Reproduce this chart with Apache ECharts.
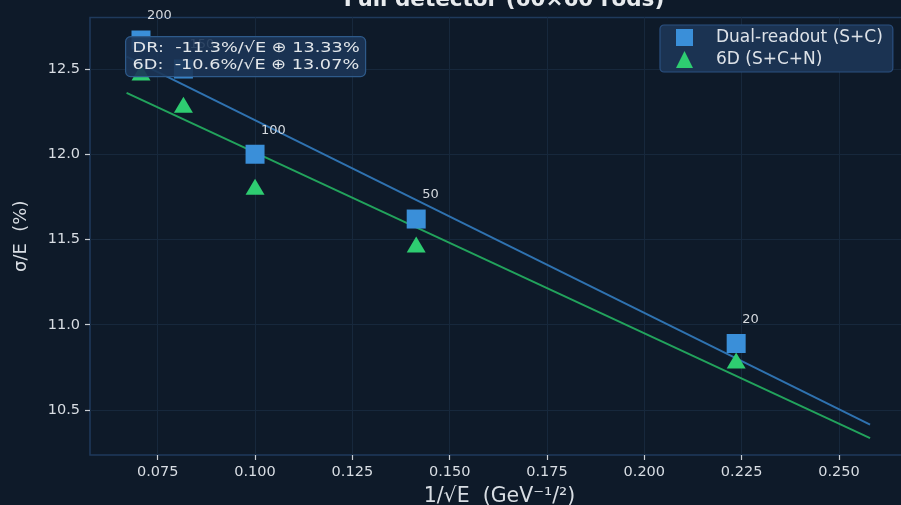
<!DOCTYPE html>
<html>
<head>
<meta charset="utf-8">
<script src="https://cdn.jsdelivr.net/npm/echarts@6/dist/echarts.min.js"></script>
<style>
  html, body { margin: 0; padding: 0; background: #0e1a29; }
  #chart { width: 901px; height: 505px; }
</style>
</head>
<body>
<div id="chart"></div>
<script>
// Beam energies (GeV) and the matching 1/sqrt(E) positions
const energies = [200, 150, 100, 50, 20];
const invSqrtE = [0.0707, 0.0816, 0.1000, 0.1414, 0.2236];

// Measured resolution sigma/E (%)
const drRes = [12.67, 12.50, 12.00, 11.62, 10.89];
const sixDRes = [12.48, 12.29, 11.81, 11.47, 10.79];

// Linear fits: [slope (%), constant (%)]
const drFit = [-11.3, 13.33];
const sixDFit = [-10.6, 13.07];
const fitRange = [0.067, 0.258];

// Axis ticks
const xTicks = [0.075, 0.100, 0.125, 0.150, 0.175, 0.200, 0.225, 0.250];
const yTicks = [10.5, 11.0, 11.5, 12.0, 12.5];

const FONT = 'DejaVu Sans';
const TXT = '#d8dde3';

function pts(xs, ys) { return xs.map((x, i) => [x, ys[i], energies[i]]); }
function fitLine(f) { return fitRange.map(x => [x, f[0] * x + f[1]]); }
function fitText(tag, f) {
  return tag + ':  ' + f[0].toFixed(1) + '%/√E ⊕ ' + f[1].toFixed(2) + '%';
}

const pointLabel = {
  show: true,
  formatter: p => String(p.value[2]),
  position: 'top',
  align: 'left',
  offset: [6, -3],
  color: '#d5d9de',
  fontFamily: FONT,
  fontSize: 13
};

const chart = echarts.init(document.getElementById('chart'));
chart.setOption({
  backgroundColor: '#0e1a29',
  animation: false,
  title: {
    text: 'Full detector (60×60 rods)',
    left: 499, textAlign: 'center',
    top: -16,
    textStyle: { color: '#e8ebee', fontFamily: FONT, fontSize: 21.5, fontWeight: 'bold' }
  },
  grid: {
    left: 90, top: 17.5, right: -8, bottom: 50,
    outerBoundsMode: 'none',
    show: true, borderColor: '#1f3a5c', borderWidth: 1.5, backgroundColor: '#0e1a29'
  },
  legend: {
    data: ['Dual-readout (S+C)', '6D (S+C+N)'],
    orient: 'vertical',
    left: 660, top: 25,
    padding: [4, 10, 4, 16],
    itemWidth: 17, itemHeight: 17, itemGap: 5,
    backgroundColor: '#1b3352',
    borderColor: '#2b5080', borderWidth: 1.2, borderRadius: 4,
    textStyle: { color: '#dde2e8', fontFamily: FONT, fontSize: 17, padding: [0, 0, 0, 18] }
  },
  xAxis: {
    type: 'value', min: 0.0576, max: 0.268,
    name: '1/√E  (GeV⁻¹/²)', nameLocation: 'middle', nameGap: 31,
    nameTextStyle: { color: TXT, fontFamily: FONT, fontSize: 20.5 },
    axisLine: { show: false },
    axisTick: { show: true, customValues: xTicks, length: 5, lineStyle: { color: '#c8cdd3', width: 1.2 } },
    axisLabel: { customValues: xTicks, color: TXT, fontFamily: FONT, fontSize: 14.5, margin: 10,
      formatter: v => v.toFixed(3) },
    splitLine: { show: true, lineStyle: { color: '#17283c', width: 1 } }
  },
  yAxis: {
    type: 'value', min: 10.236, max: 12.802,
    name: 'σ/E  (%)', nameLocation: 'middle', nameGap: 60,
    nameTextStyle: { color: TXT, fontFamily: FONT, fontSize: 18 },
    axisLine: { show: false },
    axisTick: { show: true, customValues: yTicks, length: 5, lineStyle: { color: '#c8cdd3', width: 1.2 } },
    axisLabel: { customValues: yTicks, color: TXT, fontFamily: FONT, fontSize: 14.5, margin: 10,
      formatter: v => v.toFixed(1) },
    splitLine: { show: true, lineStyle: { color: '#17283c', width: 1 } }
  },
  series: [
    {
      name: 'DR fit', type: 'line', data: fitLine(drFit), symbol: 'none', z: 2,
      lineStyle: { color: '#2f72b0', width: 2 }, silent: true
    },
    {
      name: '6D fit', type: 'line', data: fitLine(sixDFit), symbol: 'none', z: 2,
      lineStyle: { color: '#22a35c', width: 2 }, silent: true
    },
    {
      name: 'Dual-readout (S+C)', type: 'scatter', data: pts(invSqrtE, drRes),
      symbol: 'rect', symbolSize: 19, z: 3,
      itemStyle: { color: '#3a8fd9', opacity: 1 },
      label: pointLabel
    },
    {
      name: '6D (S+C+N)', type: 'scatter', data: pts(invSqrtE, sixDRes),
      symbol: 'triangle', symbolSize: [19, 16], z: 3,
      itemStyle: { color: '#2ecc71', opacity: 1 }
    }
  ],
  graphic: [
    {
      type: 'group', left: 125, top: 36, z: 100, zlevel: 1,
      children: [
        { type: 'rect', z: 100, zlevel: 1, shape: { x: 0, y: 0, width: 240, height: 40, r: 5 },
          style: { fill: 'rgba(28,53,86,0.9)', stroke: '#2e5a8a', lineWidth: 1.2 } },
        { type: 'text', z: 101, zlevel: 1, x: 7, y: 3, scaleX: 1.22,
          style: { text: fitText('DR', drFit) + '\n' + fitText('6D', sixDFit),
            fill: '#e2e6ea', font: '14.5px "DejaVu Sans"', lineHeight: 17 } }
      ]
    }
  ]
});
</script>
</body>
</html>
